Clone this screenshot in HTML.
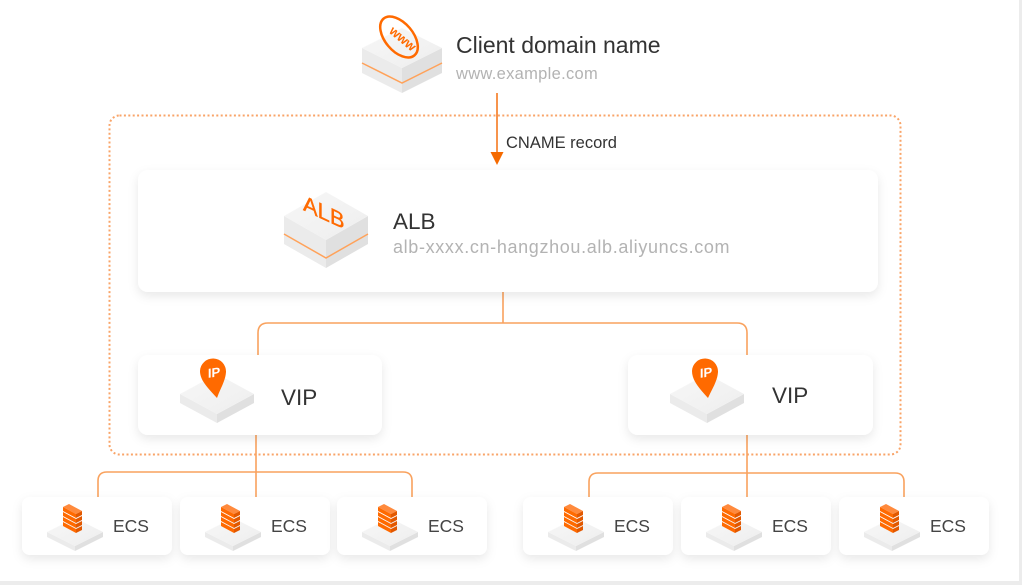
<!DOCTYPE html>
<html>
<head>
<meta charset="utf-8">
<style>
  html,body{margin:0;padding:0;background:#fff;}
  body{width:1022px;height:585px;overflow:hidden;position:relative;}
  svg{position:absolute;left:0;top:0;}
  text{font-family:"Liberation Sans",Arial,sans-serif;}
</style>
</head>
<body>
<svg width="1022" height="585" viewBox="0 0 1022 585" xmlns="http://www.w3.org/2000/svg">
  <defs>
    <filter id="sh" x="-10%" y="-20%" width="120%" height="150%">
      <feDropShadow dx="0" dy="4" stdDeviation="5" flood-color="#000" flood-opacity="0.09"/>
    </filter>
    <linearGradient id="topg" x1="0" y1="0" x2="1" y2="1">
      <stop offset="0" stop-color="#f7f7f7"/>
      <stop offset="1" stop-color="#eeeeee"/>
    </linearGradient>
  </defs>

  <!-- outer border lines -->
  <rect x="1019" y="0" width="3" height="585" fill="#ececec"/>
  <rect x="0" y="581" width="1022" height="4" fill="#ececec"/>

  <!-- dotted boundary -->
  <rect x="109.5" y="115.5" width="791" height="339" rx="10" ry="10" fill="none" stroke="#f9a468" stroke-width="2" stroke-dasharray="2 2.4"/>

  <!-- connectors -->
  <g fill="none" stroke="#f9a25e" stroke-width="1.6">
    <path d="M503,292 V323"/>
    <path d="M258,355 V333 Q258,323 268,323 H737 Q747,323 747,333 V355"/>
    <path d="M256,435 V497"/>
    <path d="M98,497 V481 Q98,472 107,472 H403 Q412,472 412,481 V497"/>
    <path d="M747,435 V497"/>
    <path d="M589,497 V482 Q589,473 598,473 H895 Q904,473 904,482 V497"/>
  </g>

  <!-- CNAME arrow -->
  <path d="M497,93 V154" stroke="#f57a1f" stroke-width="1.6" fill="none"/>
  <polygon points="490.5,152 503.5,152 497,165" fill="#f56a00"/>
  <text x="506" y="148" font-size="16.5" fill="#333">CNAME record</text>

  <!-- Client domain icon -->
  <g>
    <polygon points="362,48 402,68 402,93 362,73" fill="#ebebeb"/>
    <polygon points="442,48 402,68 402,93 442,73" fill="#e0e0e0"/>
    <polygon points="402,28 442,48 402,68 362,48" fill="url(#topg)"/>
    <polyline points="362,63 402,83 442,63" fill="none" stroke="#ffa25a" stroke-width="1.5"/>
    <ellipse cx="399" cy="37" rx="24" ry="14" transform="rotate(50 399 37)" fill="none" stroke="#ff6a00" stroke-width="2.5"/>
    <text x="0" y="0" font-size="13" font-weight="bold" fill="#ff6a00" text-anchor="middle" transform="translate(400,42) rotate(40)">www</text>
  </g>
  <text x="456" y="53" font-size="23" fill="#333">Client domain name</text>
  <text x="456" y="79" font-size="16.5" fill="#b3b3b3" letter-spacing="0.3">www.example.com</text>

  <!-- ALB card -->
  <rect x="138" y="170" width="740" height="122" rx="10" ry="10" fill="#fff" filter="url(#sh)"/>
  <g>
    <polygon points="284,216 326,240 326,268 284,244" fill="#ebebeb"/>
    <polygon points="368,216 326,240 326,268 368,244" fill="#e0e0e0"/>
    <polygon points="326,192 368,216 326,240 284,216" fill="url(#topg)"/>
    <polyline points="284,234 326,258 368,234" fill="none" stroke="#ffa25a" stroke-width="1.5"/>
    <text x="0" y="0" font-size="22" fill="#ff6a00" stroke="#ff6a00" stroke-width="0.4" transform="translate(303,210) skewY(25)">ALB</text>
  </g>
  <text x="393" y="229" font-size="22.5" fill="#333">ALB</text>
  <text x="393" y="253" font-size="18" fill="#b3b3b3" letter-spacing="0.65">alb-xxxx.cn-hangzhou.alb.aliyuncs.com</text>

  <!-- VIP cards -->
  <rect x="138" y="355" width="244" height="80" rx="10" ry="10" fill="#fff" filter="url(#sh)"/>
  <rect x="628" y="355" width="245" height="80" rx="10" ry="10" fill="#fff" filter="url(#sh)"/>

  <g>
    <polygon points="180,394 217,414 217,423 180,403" fill="#ebebeb"/>
    <polygon points="254,394 217,414 217,423 254,403" fill="#e0e0e0"/>
    <polygon points="217,374 254,394 217,414 180,394" fill="url(#topg)"/>
    <path d="M217,398 C209,389 200,381 200,371 A13,13 0 1 1 226,372 C225.5,381 220,389 217,398 Z" fill="#ff6a00"/>
    <text x="0" y="0" font-size="13" font-weight="bold" fill="#fff" text-anchor="middle" transform="translate(214,377) skewY(-8)">IP</text>
  </g>
  <text x="281" y="405" font-size="22.5" fill="#333">VIP</text>

  <g>
    <polygon points="670,394 707,414 707,423 670,403" fill="#ebebeb"/>
    <polygon points="744,394 707,414 707,423 744,403" fill="#e0e0e0"/>
    <polygon points="707,374 744,394 707,414 670,394" fill="url(#topg)"/>
    <path d="M708,398 C700,389 692,381 692,371 A13,13 0 1 1 718,372 C717.5,381 712,389 708,398 Z" fill="#ff6a00"/>
    <text x="0" y="0" font-size="13" font-weight="bold" fill="#fff" text-anchor="middle" transform="translate(706,377) skewY(-8)">IP</text>
  </g>
  <text x="772" y="403" font-size="22.5" fill="#333">VIP</text>

  <!-- ECS cards -->
  <g id="ecs">
    <rect x="22" y="497" width="150" height="58" rx="8" ry="8" fill="#fff" filter="url(#sh)"/>
    <polygon points="47,532 75,546 75,551 47,537" fill="#ebebeb"/>
    <polygon points="103,532 75,546 75,551 103,537" fill="#e0e0e0"/>
    <polygon points="75,518 103,532 75,546 47,532" fill="url(#topg)"/>
    <polygon points="63,507 69,504 82,511 76,514" fill="#ff8a3d"/>
    <g fill="#ff6a00">
      <polygon points="63,507 76,514 76,518 63,511"/>
      <polygon points="63,512 76,519 76,523 63,516"/>
      <polygon points="63,517 76,524 76,528 63,521"/>
      <polygon points="63,522 76,529 76,533 63,526"/>
    </g>
    <g fill="#e25800">
      <polygon points="76,514 82,511 82,515 76,518"/>
      <polygon points="76,519 82,516 82,520 76,523"/>
      <polygon points="76,524 82,521 82,525 76,528"/>
      <polygon points="76,529 82,526 82,530 76,533"/>
    </g>
    <text x="113" y="532" font-size="17.5" fill="#444">ECS</text>
  </g>
  <use href="#ecs" x="158"/>
  <use href="#ecs" x="315"/>
  <use href="#ecs" x="501"/>
  <use href="#ecs" x="659"/>
  <use href="#ecs" x="817"/>
</svg>
</body>
</html>
